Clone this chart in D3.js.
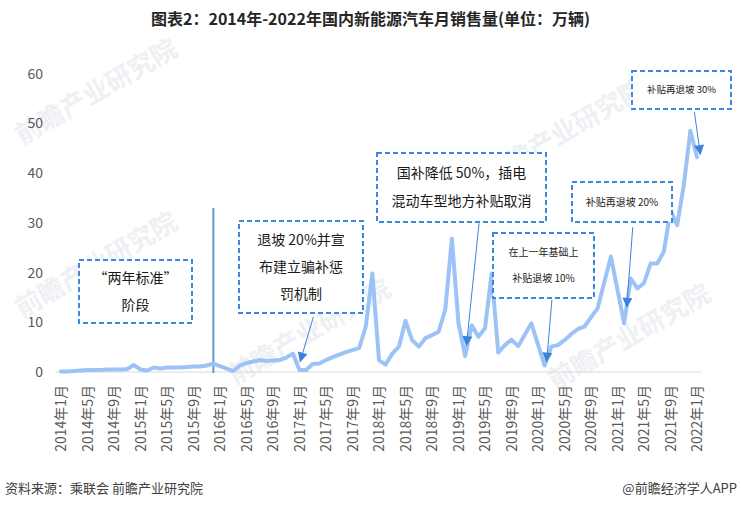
<!DOCTYPE html>
<html>
<head>
<meta charset="utf-8">
<script src="https://cdn.jsdelivr.net/npm/d3@7/dist/d3.min.js"></script>
<style>
  html, body { margin: 0; padding: 0; background: #ffffff; }
  svg { display: block; font-family: "Noto Sans CJK SC", "Noto Sans", sans-serif; }
</style>
</head>
<body>
<svg id="chart" width="741" height="509"></svg>
<script>
// ---------- DATA ----------
const title = "图表2：2014年-2022年国内新能源汽车月销售量(单位：万辆)";
const years = [2014, 2015, 2016, 2017, 2018, 2019, 2020, 2021, 2022];
// monthly sales, 万辆, 2014-01 ... 2022-01
const sales = [
  0.1, 0.1, 0.2, 0.3, 0.4, 0.4, 0.4, 0.5, 0.5, 0.5, 0.6, 1.4,        // 2014
  0.5, 0.3, 0.9, 0.7, 0.9, 0.9, 0.9, 1.0, 1.1, 1.1, 1.3, 1.7,        // 2015
  1.2, 0.7, 0.2, 1.3, 1.8, 2.1, 2.4, 2.2, 2.3, 2.4, 2.9, 3.7,        // 2016
  0.4, 0.4, 1.6, 1.7, 2.4, 3.0, 3.5, 4.0, 4.4, 4.8, 9.1, 19.8,       // 2017
  2.4, 1.5, 3.7, 5.1, 10.3, 6.4, 5.1, 6.8, 7.4, 8.1, 12.5, 26.8,     // 2018
  9.8, 3.2, 9.4, 7.1, 8.8, 19.8, 3.9, 5.4, 6.5, 5.2, 7.5, 9.8,       // 2019
  5.5, 1.3, 5.1, 5.4, 6.4, 7.6, 8.6, 9.1, 11.0, 12.8, 18.0, 23.2,    // 2020
  16.5, 9.8, 18.8, 16.8, 17.9, 21.8, 21.8, 24.2, 32.5, 29.5, 37.5, 48.5, // 2021
  43.2                                                               // 2022-01
];
const months = [];
years.forEach(yr => { for (let m = 1; m <= 12; m++) { if (months.length < sales.length) months.push(yr + "年" + m + "月"); } });
const tickLabels = months.filter((d, i) => i % 4 === 0);
const yTicks = [0, 10, 20, 30, 40, 50, 60];
const policyStart = "2015年12月";

// annotations: text lines + arrow (data coords: month index, value)
const notes = [
  { lines: ["“两年标准”", "阶段"], box: [79, 260, 113, 63], size: 14, gap: 27, arrow: null },
  { lines: ["退坡 20%并宣", "布建立骗补惩", "罚机制"], box: [239, 221, 124, 92], size: 14, gap: 27,
    arrow: { from: [38.1, 11.1], to: [36.1, 2.1] } },
  { lines: ["国补降低 50%，插电", "混动车型地方补贴取消"], box: [377, 153, 169, 69], size: 14, gap: 28,
    arrow: { from: [63.1, 29.9], to: [61.2, 5.4] } },
  { lines: ["在上一年基础上", "补贴退坡 10%"], box: [493, 233, 101, 65], size: 10, gap: 26,
    arrow: { from: [74.1, 14.5], to: [73.3, 2.1] } },
  { lines: ["补贴再退坡 20%"], box: [572, 182, 100, 40], size: 10, gap: 0,
    arrow: { from: [86.3, 29.1], to: [85.4, 13.1] } },
  { lines: ["补贴再退坡 30%"], box: [632, 71, 99, 38], size: 9.5, gap: 0,
    arrow: { from: [95.6, 52.3], to: [96.5, 43.8] } }
];

// ---------- CHART ----------
const svg = d3.select("#chart");

// watermarks (very faint)
const wm = svg.append("g").attr("fill", "#eef0f4").attr("font-weight", "bold");
[[22, 145, 30], [22, 318, 30], [235, 385, 30], [490, 185, 30], [555, 390, 30]].forEach(p => {
  wm.append("text").attr("transform", `translate(${p[0]},${p[1]}) rotate(-${p[2]})`)
    .attr("font-size", 26).text("前瞻产业研究院");
});

const x = d3.scaleLinear().domain([0, sales.length - 1]).range([61, 697]);
const y = d3.scaleLinear().domain([0, 60]).range([372, 73.6]);

// title
svg.append("text").attr("x", 370.5).attr("y", 25).attr("text-anchor", "middle")
  .attr("font-size", 16).attr("font-weight", "bold").attr("fill", "#262626")
  .text(title);

// baseline
svg.append("line").attr("x1", 56).attr("x2", 701).attr("y1", y(0)).attr("y2", y(0))
  .attr("stroke", "#d9d9d9").attr("stroke-width", 1);

// y axis labels
const yAxis = d3.axisLeft(y).tickValues(yTicks).tickSize(0).tickPadding(0);
const yg = svg.append("g").attr("transform", "translate(43,0)").call(yAxis);
yg.select(".domain").remove();
yg.selectAll("text").attr("font-size", 14).attr("fill", "#595959")
  .attr("font-family", "'Noto Sans CJK SC', sans-serif");

// x axis labels (rotated)
const xAxis = d3.axisBottom(x)
  .tickValues(d3.range(0, sales.length, 4))
  .tickFormat(i => months[i]).tickSize(0);
const xg = svg.append("g").attr("transform", `translate(0,${y(0)})`).call(xAxis);
xg.select(".domain").remove();
xg.selectAll("text")
  .attr("font-size", 14).attr("fill", "#595959")
  .attr("font-family", "'Noto Sans CJK SC', sans-serif")
  .attr("text-anchor", "end")
  .attr("transform", "rotate(-90)")
  .attr("x", -13).attr("y", 0).attr("dy", "0.35em");

// policy divider line
const pIdx = months.indexOf(policyStart);
svg.append("line").attr("x1", x(pIdx)).attr("x2", x(pIdx))
  .attr("y1", y(33)).attr("y2", y(0) + 1)
  .attr("stroke", "#5b9bd5").attr("stroke-width", 2);

// sales line
const line = d3.line().x((d, i) => x(i)).y(d => y(d));
svg.append("path").datum(sales).attr("d", line)
  .attr("fill", "none").attr("stroke", "#9dc3f6").attr("stroke-width", 4)
  .attr("stroke-linejoin", "round").attr("stroke-linecap", "round");

// arrow marker
svg.append("defs").append("marker").attr("id", "ah")
  .attr("viewBox", "0 0 10 10").attr("refX", 9).attr("refY", 5)
  .attr("markerWidth", 12).attr("markerHeight", 10)
  .attr("markerUnits", "userSpaceOnUse").attr("orient", "auto")
  .append("path").attr("d", "M0,0 L10,5 L0,10 Z").attr("fill", "#3b82dc");

// annotations
const ag = svg.append("g");
notes.forEach(n => {
  const [bx, by, bw, bh] = n.box;
  ag.append("rect").attr("x", bx).attr("y", by).attr("width", bw).attr("height", bh)
    .attr("fill", "#ffffff").attr("stroke", "#3c87e0").attr("stroke-width", 2)
    .attr("stroke-dasharray", "5,3");
  const cy = by + bh / 2 - (n.lines.length - 1) * n.gap / 2;
  n.lines.forEach((t, k) => {
    ag.append("text").attr("x", bx + bw / 2).attr("y", cy + k * n.gap)
      .attr("dy", "0.35em").attr("text-anchor", "middle")
      .attr("font-size", n.size).attr("fill", "#1a1a1a").text(t);
  });
  if (n.arrow) {
    ag.append("line")
      .attr("x1", x(n.arrow.from[0])).attr("y1", y(n.arrow.from[1]))
      .attr("x2", x(n.arrow.to[0])).attr("y2", y(n.arrow.to[1]))
      .attr("stroke", "#3b82dc").attr("stroke-width", 1)
      .attr("marker-end", "url(#ah)");
  }
});

// footer
svg.append("text").attr("x", 5).attr("y", 493).attr("font-size", 13).attr("fill", "#404040")
  .text("资料来源：乘联会 前瞻产业研究院");
svg.append("text").attr("x", 737).attr("y", 493).attr("text-anchor", "end")
  .attr("font-size", 13).attr("fill", "#404040").text("@前瞻经济学人APP");
</script>
</body>
</html>
